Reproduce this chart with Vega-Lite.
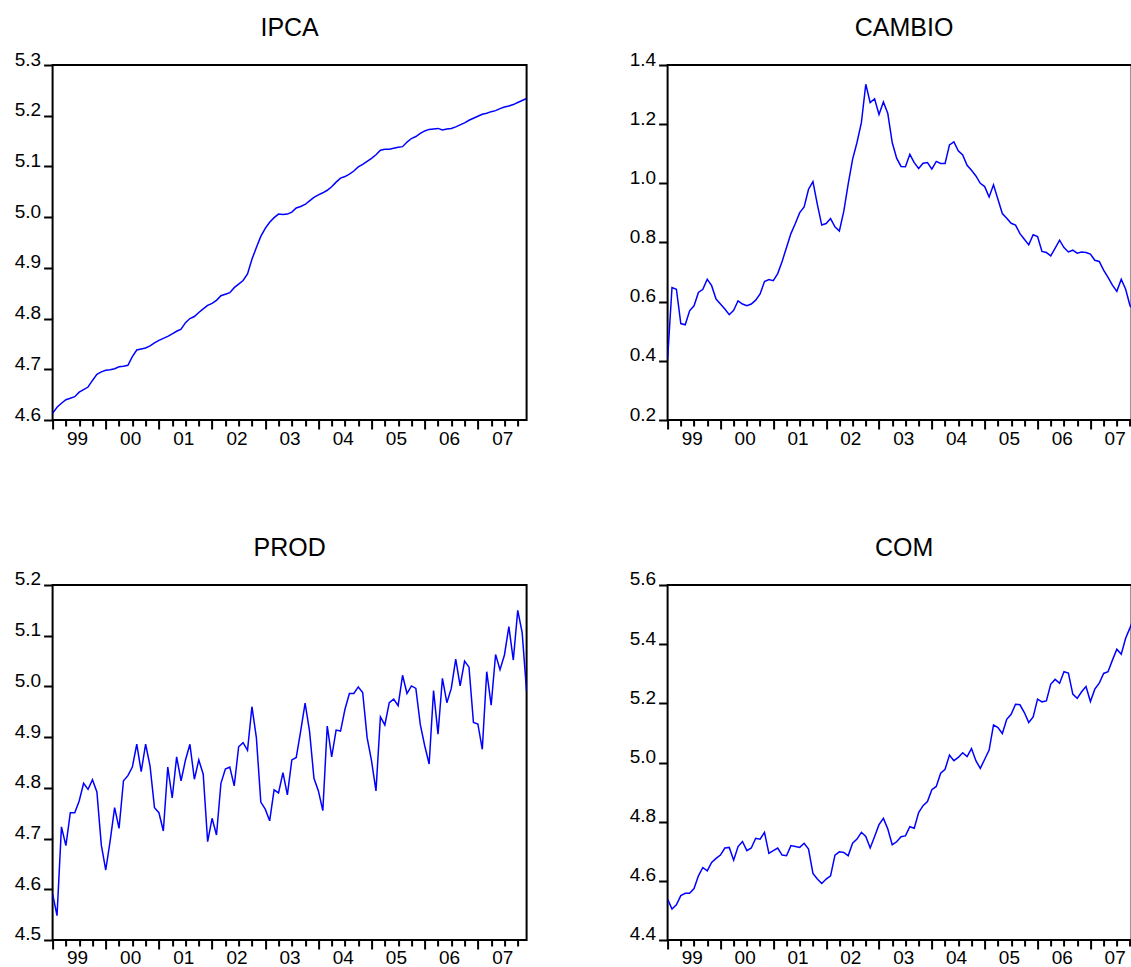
{
  "$schema": "https://vega.github.io/schema/vega-lite/v6.json",
  "padding": {"left": 12.6, "top": 15, "right": 0, "bottom": -4},
  "bounds": "flush",
  "columns": 2,
  "spacing": {"row": 165, "column": 141},
  "config": {
    "font": "Liberation Sans",
    "view": {"stroke": "black", "strokeWidth": 2},
    "title": {"fontSize": 25, "fontWeight": "normal", "color": "black", "baseline": "alphabetic", "offset": 9, "frame": "group", "anchor": "middle"},
    "axis": {"grid": false, "domain": false, "tickColor": "black", "tickWidth": 2, "labelFontSize": 19, "labelColor": "black", "labelFlush": false, "labelOverlap": false, "labelBound": false, "title": null},
    "line": {"color": "#0000FF", "strokeWidth": 1.5}
  },
  "data": {"values": [
    {"obs":0,"IPCA":4.613,"CAMBIO":0.406,"PROD":4.591,"COM":4.538},
    {"obs":1,"IPCA":4.625,"CAMBIO":0.648,"PROD":4.548,"COM":4.505},
    {"obs":2,"IPCA":4.633,"CAMBIO":0.642,"PROD":4.723,"COM":4.519},
    {"obs":3,"IPCA":4.640,"CAMBIO":0.526,"PROD":4.686,"COM":4.550},
    {"obs":4,"IPCA":4.643,"CAMBIO":0.522,"PROD":4.751,"COM":4.558},
    {"obs":5,"IPCA":4.646,"CAMBIO":0.569,"PROD":4.751,"COM":4.558},
    {"obs":6,"IPCA":4.655,"CAMBIO":0.586,"PROD":4.774,"COM":4.574},
    {"obs":7,"IPCA":4.660,"CAMBIO":0.631,"PROD":4.809,"COM":4.617},
    {"obs":8,"IPCA":4.665,"CAMBIO":0.642,"PROD":4.797,"COM":4.645},
    {"obs":9,"IPCA":4.678,"CAMBIO":0.676,"PROD":4.816,"COM":4.634},
    {"obs":10,"IPCA":4.690,"CAMBIO":0.654,"PROD":4.792,"COM":4.662},
    {"obs":11,"IPCA":4.695,"CAMBIO":0.609,"PROD":4.687,"COM":4.676},
    {"obs":12,"IPCA":4.698,"CAMBIO":0.592,"PROD":4.638,"COM":4.687},
    {"obs":13,"IPCA":4.699,"CAMBIO":0.575,"PROD":4.696,"COM":4.711},
    {"obs":14,"IPCA":4.701,"CAMBIO":0.556,"PROD":4.761,"COM":4.713},
    {"obs":15,"IPCA":4.705,"CAMBIO":0.571,"PROD":4.720,"COM":4.670},
    {"obs":16,"IPCA":4.706,"CAMBIO":0.603,"PROD":4.814,"COM":4.716},
    {"obs":17,"IPCA":4.708,"CAMBIO":0.592,"PROD":4.824,"COM":4.733},
    {"obs":18,"IPCA":4.725,"CAMBIO":0.586,"PROD":4.841,"COM":4.702},
    {"obs":19,"IPCA":4.738,"CAMBIO":0.592,"PROD":4.886,"COM":4.711},
    {"obs":20,"IPCA":4.740,"CAMBIO":0.605,"PROD":4.832,"COM":4.744},
    {"obs":21,"IPCA":4.742,"CAMBIO":0.626,"PROD":4.886,"COM":4.741},
    {"obs":22,"IPCA":4.746,"CAMBIO":0.668,"PROD":4.843,"COM":4.764},
    {"obs":23,"IPCA":4.752,"CAMBIO":0.675,"PROD":4.761,"COM":4.693},
    {"obs":24,"IPCA":4.757,"CAMBIO":0.671,"PROD":4.751,"COM":4.702},
    {"obs":25,"IPCA":4.761,"CAMBIO":0.695,"PROD":4.715,"COM":4.711},
    {"obs":26,"IPCA":4.765,"CAMBIO":0.736,"PROD":4.841,"COM":4.687},
    {"obs":27,"IPCA":4.770,"CAMBIO":0.783,"PROD":4.780,"COM":4.685},
    {"obs":28,"IPCA":4.775,"CAMBIO":0.830,"PROD":4.861,"COM":4.719},
    {"obs":29,"IPCA":4.779,"CAMBIO":0.864,"PROD":4.814,"COM":4.716},
    {"obs":30,"IPCA":4.792,"CAMBIO":0.901,"PROD":4.855,"COM":4.713},
    {"obs":31,"IPCA":4.800,"CAMBIO":0.920,"PROD":4.886,"COM":4.727},
    {"obs":32,"IPCA":4.804,"CAMBIO":0.980,"PROD":4.817,"COM":4.707},
    {"obs":33,"IPCA":4.812,"CAMBIO":1.006,"PROD":4.855,"COM":4.625},
    {"obs":34,"IPCA":4.819,"CAMBIO":0.929,"PROD":4.827,"COM":4.606},
    {"obs":35,"IPCA":4.826,"CAMBIO":0.859,"PROD":4.694,"COM":4.591},
    {"obs":36,"IPCA":4.830,"CAMBIO":0.864,"PROD":4.740,"COM":4.606},
    {"obs":37,"IPCA":4.836,"CAMBIO":0.881,"PROD":4.707,"COM":4.617},
    {"obs":38,"IPCA":4.845,"CAMBIO":0.853,"PROD":4.809,"COM":4.687},
    {"obs":39,"IPCA":4.848,"CAMBIO":0.839,"PROD":4.837,"COM":4.698},
    {"obs":40,"IPCA":4.851,"CAMBIO":0.905,"PROD":4.841,"COM":4.696},
    {"obs":41,"IPCA":4.861,"CAMBIO":0.997,"PROD":4.804,"COM":4.685},
    {"obs":42,"IPCA":4.868,"CAMBIO":1.081,"PROD":4.881,"COM":4.727},
    {"obs":43,"IPCA":4.875,"CAMBIO":1.138,"PROD":4.889,"COM":4.741},
    {"obs":44,"IPCA":4.888,"CAMBIO":1.205,"PROD":4.874,"COM":4.764},
    {"obs":45,"IPCA":4.917,"CAMBIO":1.335,"PROD":4.960,"COM":4.750},
    {"obs":46,"IPCA":4.940,"CAMBIO":1.273,"PROD":4.899,"COM":4.711},
    {"obs":47,"IPCA":4.962,"CAMBIO":1.286,"PROD":4.772,"COM":4.750},
    {"obs":48,"IPCA":4.978,"CAMBIO":1.233,"PROD":4.758,"COM":4.790},
    {"obs":49,"IPCA":4.990,"CAMBIO":1.275,"PROD":4.735,"COM":4.811},
    {"obs":50,"IPCA":4.999,"CAMBIO":1.236,"PROD":4.796,"COM":4.775},
    {"obs":51,"IPCA":5.006,"CAMBIO":1.138,"PROD":4.790,"COM":4.722},
    {"obs":52,"IPCA":5.005,"CAMBIO":1.085,"PROD":4.830,"COM":4.732},
    {"obs":53,"IPCA":5.006,"CAMBIO":1.057,"PROD":4.786,"COM":4.749},
    {"obs":54,"IPCA":5.010,"CAMBIO":1.056,"PROD":4.855,"COM":4.752},
    {"obs":55,"IPCA":5.018,"CAMBIO":1.098,"PROD":4.860,"COM":4.783},
    {"obs":56,"IPCA":5.021,"CAMBIO":1.070,"PROD":4.912,"COM":4.778},
    {"obs":57,"IPCA":5.025,"CAMBIO":1.050,"PROD":4.967,"COM":4.831},
    {"obs":58,"IPCA":5.032,"CAMBIO":1.068,"PROD":4.912,"COM":4.854},
    {"obs":59,"IPCA":5.039,"CAMBIO":1.070,"PROD":4.819,"COM":4.868},
    {"obs":60,"IPCA":5.044,"CAMBIO":1.048,"PROD":4.794,"COM":4.908},
    {"obs":61,"IPCA":5.048,"CAMBIO":1.074,"PROD":4.755,"COM":4.919},
    {"obs":62,"IPCA":5.053,"CAMBIO":1.067,"PROD":4.922,"COM":4.964},
    {"obs":63,"IPCA":5.060,"CAMBIO":1.067,"PROD":4.861,"COM":4.977},
    {"obs":64,"IPCA":5.069,"CAMBIO":1.130,"PROD":4.914,"COM":5.025},
    {"obs":65,"IPCA":5.077,"CAMBIO":1.140,"PROD":4.912,"COM":5.006},
    {"obs":66,"IPCA":5.080,"CAMBIO":1.110,"PROD":4.955,"COM":5.017},
    {"obs":67,"IPCA":5.085,"CAMBIO":1.096,"PROD":4.986,"COM":5.033},
    {"obs":68,"IPCA":5.091,"CAMBIO":1.061,"PROD":4.986,"COM":5.020},
    {"obs":69,"IPCA":5.099,"CAMBIO":1.044,"PROD":4.999,"COM":5.047},
    {"obs":70,"IPCA":5.104,"CAMBIO":1.025,"PROD":4.988,"COM":5.006},
    {"obs":71,"IPCA":5.110,"CAMBIO":1.000,"PROD":4.899,"COM":4.980},
    {"obs":72,"IPCA":5.116,"CAMBIO":0.989,"PROD":4.853,"COM":5.011},
    {"obs":73,"IPCA":5.123,"CAMBIO":0.954,"PROD":4.794,"COM":5.042},
    {"obs":74,"IPCA":5.132,"CAMBIO":0.995,"PROD":4.940,"COM":5.127},
    {"obs":75,"IPCA":5.134,"CAMBIO":0.946,"PROD":4.924,"COM":5.118},
    {"obs":76,"IPCA":5.134,"CAMBIO":0.898,"PROD":4.968,"COM":5.098},
    {"obs":77,"IPCA":5.136,"CAMBIO":0.882,"PROD":4.975,"COM":5.146},
    {"obs":78,"IPCA":5.138,"CAMBIO":0.865,"PROD":4.962,"COM":5.163},
    {"obs":79,"IPCA":5.139,"CAMBIO":0.859,"PROD":5.022,"COM":5.197},
    {"obs":80,"IPCA":5.148,"CAMBIO":0.830,"PROD":4.986,"COM":5.195},
    {"obs":81,"IPCA":5.155,"CAMBIO":0.811,"PROD":5.001,"COM":5.169},
    {"obs":82,"IPCA":5.159,"CAMBIO":0.792,"PROD":4.996,"COM":5.135},
    {"obs":83,"IPCA":5.165,"CAMBIO":0.826,"PROD":4.925,"COM":5.154},
    {"obs":84,"IPCA":5.170,"CAMBIO":0.820,"PROD":4.883,"COM":5.214},
    {"obs":85,"IPCA":5.173,"CAMBIO":0.770,"PROD":4.847,"COM":5.205},
    {"obs":86,"IPCA":5.174,"CAMBIO":0.766,"PROD":4.992,"COM":5.208},
    {"obs":87,"IPCA":5.175,"CAMBIO":0.755,"PROD":4.906,"COM":5.265},
    {"obs":88,"IPCA":5.172,"CAMBIO":0.781,"PROD":5.016,"COM":5.281},
    {"obs":89,"IPCA":5.174,"CAMBIO":0.808,"PROD":4.968,"COM":5.268},
    {"obs":90,"IPCA":5.175,"CAMBIO":0.783,"PROD":4.996,"COM":5.307},
    {"obs":91,"IPCA":5.178,"CAMBIO":0.768,"PROD":5.054,"COM":5.302},
    {"obs":92,"IPCA":5.182,"CAMBIO":0.774,"PROD":5.001,"COM":5.231},
    {"obs":93,"IPCA":5.186,"CAMBIO":0.764,"PROD":5.050,"COM":5.217},
    {"obs":94,"IPCA":5.191,"CAMBIO":0.768,"PROD":5.038,"COM":5.239},
    {"obs":95,"IPCA":5.195,"CAMBIO":0.766,"PROD":4.929,"COM":5.257},
    {"obs":96,"IPCA":5.199,"CAMBIO":0.761,"PROD":4.926,"COM":5.206},
    {"obs":97,"IPCA":5.203,"CAMBIO":0.740,"PROD":4.876,"COM":5.248},
    {"obs":98,"IPCA":5.205,"CAMBIO":0.736,"PROD":5.029,"COM":5.268},
    {"obs":99,"IPCA":5.208,"CAMBIO":0.707,"PROD":4.963,"COM":5.301},
    {"obs":100,"IPCA":5.210,"CAMBIO":0.682,"PROD":5.063,"COM":5.307},
    {"obs":101,"IPCA":5.214,"CAMBIO":0.656,"PROD":5.033,"COM":5.346},
    {"obs":102,"IPCA":5.217,"CAMBIO":0.635,"PROD":5.062,"COM":5.383},
    {"obs":103,"IPCA":5.219,"CAMBIO":0.676,"PROD":5.118,"COM":5.366},
    {"obs":104,"IPCA":5.222,"CAMBIO":0.642,"PROD":5.052,"COM":5.420},
    {"obs":105,"IPCA":5.226,"CAMBIO":0.586,"PROD":5.150,"COM":5.456},
    {"obs":106,"IPCA":5.230,"CAMBIO":0.570,"PROD":5.106,"COM":5.495},
    {"obs":107,"IPCA":5.234,"CAMBIO":0.560,"PROD":4.990,"COM":5.520}
  ]},
  "concat": [
    {
      "title": "IPCA",
      "width": 474, "height": 355,
      "mark": {"type": "line", "clip": true},
      "encoding": {
        "x": {"field": "obs", "type": "quantitative", "scale": {"domain": [0, 107], "nice": false, "zero": false},
          "axis": {"values": [0,3,6,9,12,15,18,21,24,27,30,33,36,39,42,45,48,51,54,57,60,63,66,69,72,75,78,81,84,87,90,93,96,99,102,105],
            "labelExpr": "datum.value % 12 == 6 ? format((1999 + floor(datum.value / 12)) % 100, '02d') : ''",
            "tickSize": {"condition": {"test": "datum.value % 12 == 0", "value": 9}, "value": 6},
            "labelPadding": 3, "labelOffset": -2.2}},
        "y": {"field": "IPCA", "type": "quantitative", "scale": {"domain": [4.6, 5.3], "nice": false, "zero": false},
          "axis": {"values": [4.6,4.7,4.8,4.9,5.0,5.1,5.2,5.3], "format": ".1f", "tickSize": 9, "labelPadding": 3, "labelBaseline": "alphabetic"}}
      }
    },
    {
      "title": {"text": "CAMBIO", "dx": 4.5},
      "width": 464, "height": 355,
      "mark": {"type": "line", "clip": true},
      "encoding": {
        "x": {"field": "obs", "type": "quantitative", "scale": {"domain": [0, 105.35], "nice": false, "zero": false},
          "axis": {"values": [0,3,6,9,12,15,18,21,24,27,30,33,36,39,42,45,48,51,54,57,60,63,66,69,72,75,78,81,84,87,90,93,96,99,102,105],
            "labelExpr": "datum.value % 12 == 6 ? format((1999 + floor(datum.value / 12)) % 100, '02d') : ''",
            "tickSize": {"condition": {"test": "datum.value % 12 == 0", "value": 9}, "value": 6},
            "labelPadding": 3, "labelOffset": -2.2}},
        "y": {"field": "CAMBIO", "type": "quantitative", "scale": {"domain": [0.2, 1.4], "nice": false, "zero": false},
          "axis": {"values": [0.2,0.4,0.6,0.8,1.0,1.2,1.4], "format": ".1f", "tickSize": 9, "labelPadding": 3, "labelBaseline": "alphabetic"}}
      }
    },
    {
      "title": "PROD",
      "width": 474, "height": 355,
      "mark": {"type": "line", "clip": true},
      "encoding": {
        "x": {"field": "obs", "type": "quantitative", "scale": {"domain": [0, 107], "nice": false, "zero": false},
          "axis": {"values": [0,3,6,9,12,15,18,21,24,27,30,33,36,39,42,45,48,51,54,57,60,63,66,69,72,75,78,81,84,87,90,93,96,99,102,105],
            "labelExpr": "datum.value % 12 == 6 ? format((1999 + floor(datum.value / 12)) % 100, '02d') : ''",
            "tickSize": {"condition": {"test": "datum.value % 12 == 0", "value": 9}, "value": 6},
            "labelPadding": 3, "labelOffset": -2.2}},
        "y": {"field": "PROD", "type": "quantitative", "scale": {"domain": [4.5, 5.2], "nice": false, "zero": false},
          "axis": {"values": [4.5,4.6,4.7,4.8,4.9,5.0,5.1,5.2], "format": ".1f", "tickSize": 9, "labelPadding": 3, "labelBaseline": "alphabetic"}}
      }
    },
    {
      "title": {"text": "COM", "dx": 4.5},
      "width": 464, "height": 355,
      "mark": {"type": "line", "clip": true},
      "encoding": {
        "x": {"field": "obs", "type": "quantitative", "scale": {"domain": [0, 105.35], "nice": false, "zero": false},
          "axis": {"values": [0,3,6,9,12,15,18,21,24,27,30,33,36,39,42,45,48,51,54,57,60,63,66,69,72,75,78,81,84,87,90,93,96,99,102,105],
            "labelExpr": "datum.value % 12 == 6 ? format((1999 + floor(datum.value / 12)) % 100, '02d') : ''",
            "tickSize": {"condition": {"test": "datum.value % 12 == 0", "value": 9}, "value": 6},
            "labelPadding": 3, "labelOffset": -2.2}},
        "y": {"field": "COM", "type": "quantitative", "scale": {"domain": [4.4, 5.6], "nice": false, "zero": false},
          "axis": {"values": [4.4,4.6,4.8,5.0,5.2,5.4,5.6], "format": ".1f", "tickSize": 9, "labelPadding": 3, "labelBaseline": "alphabetic"}}
      }
    }
  ]
}
